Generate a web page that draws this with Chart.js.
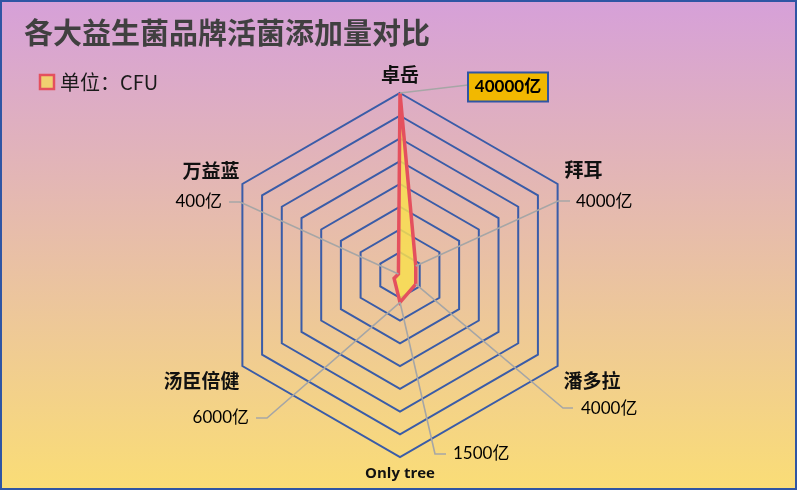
<!DOCTYPE html>
<html>
<head>
<meta charset="utf-8">
<script src="https://cdn.jsdelivr.net/npm/chart.js@4.4.1/dist/chart.umd.min.js"></script>
<style>
  body { margin: 0; background: #fff; }
  #wrap { width: 797px; height: 490px; }
</style>
</head>
<body>
<div id="wrap"><canvas id="radar" width="797" height="490"></canvas></div>
<script>
// categories clockwise from the top
var brands = ["卓岳", "拜耳", "潘多拉", "Only tree", "汤臣倍健", "万益蓝"];
// values in 亿 CFU
var counts = [40000, 4000, 4000, 6000, 1500, 400];
// callout texts as printed on the chart
var calloutText = ["40000亿", "4000亿", "4000亿", "1500亿", "6000亿", "400亿"];
// which polygon point each callout's leader line goes to
var calloutPoint = [0, 1, 2, 3, 3, 5];
var axisMax = 40000;
var axisStep = 5000;

var title = "各大益生菌品牌活菌添加量对比";
var legendText = "单位：CFU";

var cjk = "'Noto Sans CJK SC', sans-serif";

// where the brand names sit, relative to the outer ring vertex
var nameOffset = [
  [0, -18, "center"], [7, -14, "left"], [6, 15, "left"],
  [0, 17, "center"], [-3, 15, "right"], [-3, -13, "right"]
];
// callout text position + elbow of the leader, relative to the scale center
var calloutLayout = [
  { x: 108, y: -188, align: "center", elbow: [68, -190], end: [68, -190] },
  { x: 176, y: -73, align: "left", elbow: [158, -74], end: [170, -74] },
  { x: 181, y: 134, align: "left", elbow: [163, 133], end: [173, 133] },
  { x: 53, y: 179, align: "left", elbow: [35, 179], end: [46, 179] },
  { x: -151, y: 143, align: "right", elbow: [-133, 143], end: [-144, 143] },
  { x: -178, y: -73, align: "right", elbow: [-160, -73], end: [-171, -73] }
];

var decor = {
  id: "decor",
  beforeDraw: function(chart) {
    var ctx = chart.ctx;
    var g = ctx.createLinearGradient(0, 0, 0, chart.height);
    g.addColorStop(0, "#d6a0d9");
    g.addColorStop(1, "#fadd76");
    ctx.save();
    ctx.fillStyle = g;
    ctx.fillRect(0, 0, chart.width, chart.height);
    ctx.restore();
  },
  afterDatasetsDraw: function(chart) {
    var ctx = chart.ctx;
    var scale = chart.scales.r;
    var cx = scale.xCenter, cy = scale.yCenter;
    var pts = chart.getDatasetMeta(0).data;
    ctx.save();

    // leader lines
    ctx.strokeStyle = "#a6a6a6";
    ctx.lineWidth = 1.6;
    calloutLayout.forEach(function(c, i) {
      var p = pts[calloutPoint[i]];
      ctx.beginPath();
      ctx.moveTo(p.x, p.y);
      ctx.lineTo(cx + c.elbow[0], cy + c.elbow[1]);
      ctx.lineTo(cx + c.end[0], cy + c.end[1]);
      ctx.stroke();
    });

    // callout texts
    ctx.textBaseline = "middle";
    calloutLayout.forEach(function(c, i) {
      if (i == 0) {
        ctx.fillStyle = "#f2b800";
        ctx.fillRect(cx + c.x - 40, cy + c.y - 14.5, 80, 29);
        ctx.strokeStyle = "#2f55a4";
        ctx.lineWidth = 2;
        ctx.strokeRect(cx + c.x - 40, cy + c.y - 14.5, 80, 29);
        ctx.font = "bold 17px Lato, " + cjk;
      } else {
        ctx.font = "17px Lato, " + cjk;
      }
      ctx.fillStyle = "#000";
      ctx.textAlign = c.align;
      ctx.fillText(calloutText[i], cx + c.x, cy + c.y);
    });

    // brand names
    brands.forEach(function(name, i) {
      var v = scale.getPointPosition(i, scale.drawingArea);
      var o = nameOffset[i];
      if (name == "Only tree") {
        ctx.font = "bold 15px 'Open Sans', sans-serif";
      } else {
        ctx.font = "bold 19px " + cjk;
      }
      ctx.fillStyle = "#111";
      ctx.textAlign = o[2];
      ctx.fillText(name, v.x + o[0], v.y + o[1]);
    });

    // title
    ctx.textAlign = "left";
    ctx.font = "bold 29px " + cjk;
    ctx.fillStyle = "#404040";
    ctx.fillText(title, 24, 33);

    // legend
    ctx.fillStyle = "#f0d070";
    ctx.fillRect(40, 75, 14, 14);
    ctx.strokeStyle = "#e4505e";
    ctx.lineWidth = 2.5;
    ctx.strokeRect(40, 75, 14, 14);
    ctx.font = "20px " + cjk;
    ctx.fillStyle = "#1a1a1a";
    ctx.fillText(legendText, 60, 82);

    // frame
    ctx.strokeStyle = "#2f55a4";
    ctx.lineWidth = 2;
    ctx.strokeRect(1, 1, chart.width - 2, chart.height - 2);
    ctx.restore();
  }
};

var ctx = document.getElementById("radar");
var chart = new Chart(ctx, {
  type: "radar",
  data: {
    labels: brands,
    datasets: [{
      label: legendText,
      data: counts,
      fill: true,
      backgroundColor: "rgba(248, 222, 80, 0.85)",
      borderColor: "#e4505e",
      borderWidth: 3.5,
      pointRadius: 0,
      pointHoverRadius: 0
    }]
  },
  options: {
    responsive: false,
    animation: false,
    layout: { padding: { top: 93, bottom: 32, left: 4, right: 1 } },
    plugins: {
      legend: { display: false },
      tooltip: { enabled: false }
    },
    scales: {
      r: {
        min: 0,
        max: axisMax,
        ticks: { display: false, stepSize: axisStep },
        angleLines: { display: false },
        pointLabels: { display: false },
        grid: { color: "#3a5ca8", lineWidth: 2 }
      }
    }
  },
  plugins: [decor]
});
</script>
</body>
</html>
